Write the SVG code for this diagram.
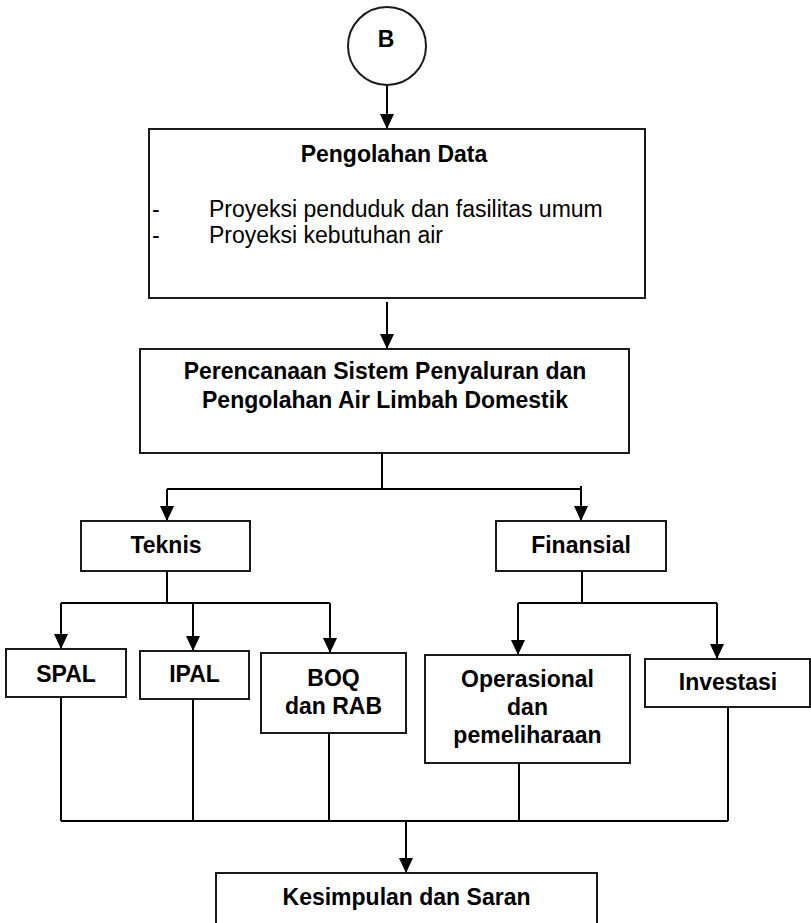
<svg xmlns="http://www.w3.org/2000/svg" width="811" height="923" viewBox="0 0 811 923">
<style>
.box{fill:#fff;stroke:#1a1a1a;stroke-width:2}
.c{fill:none;stroke:#000;stroke-width:2}
.a{marker-end:url(#ah)}
.t{font-family:"Liberation Sans",Arial,sans-serif;font-size:23px;fill:#000;text-anchor:middle}
.b{font-weight:bold}
.r{font-family:"Liberation Sans",Arial,sans-serif;font-size:23px;fill:#000}
</style>
<defs>
<marker id="ah" viewBox="0 0 15 14" markerWidth="15" markerHeight="14" refX="15" refY="7" orient="auto" markerUnits="userSpaceOnUse">
<path d="M0,0 L15,7 L0,14 z" fill="#000"/>
</marker>
</defs>
<rect width="811" height="923" fill="#fff"/>
<g id="connectors">
<path class="c a" d="M387,85 V129"/>
<path class="c a" d="M387,302 V349"/>
<path class="c" d="M382,453 V489 M167,489 H581"/>
<path class="c a" d="M167,489 V521"/>
<path class="c a" d="M581,486 V521"/>
<path class="c" d="M167,571 V603 M61,603 H330"/>
<path class="c a" d="M61,603 V649"/>
<path class="c a" d="M193,603 V651"/>
<path class="c a" d="M330,603 V653"/>
<path class="c" d="M582,571 V603 M518,603 H717"/>
<path class="c a" d="M518,603 V655"/>
<path class="c a" d="M717,603 V659"/>
<path class="c" d="M61,697 V821 M193,699 V821 M329,733 V821 M519,763 V821 M728,707 V821 M61,821 H728"/>
<path class="c a" d="M406,821 V873"/>
</g>
<g id="nodeB">
<circle cx="387" cy="46" r="39" class="box"/>
<text class="t b" x="386" y="47">B</text>
</g>
<g id="pengolahan">
<rect class="box" x="149" y="129" width="496" height="169"/>
<text class="t b" x="394" y="162">Pengolahan Data</text>
<text class="r" x="152" y="217">-</text>
<text class="r" x="209" y="217">Proyeksi penduduk dan fasilitas umum</text>
<text class="r" x="152" y="243">-</text>
<text class="r" x="209" y="243">Proyeksi kebutuhan air</text>
</g>
<g id="perencanaan">
<rect class="box" x="140" y="349" width="489" height="104"/>
<text class="t b" x="385" y="379">Perencanaan Sistem Penyaluran dan</text>
<text class="t b" x="385" y="408">Pengolahan Air Limbah Domestik</text>
</g>
<g id="teknis">
<rect class="box" x="81" y="521" width="169" height="50"/>
<text class="t b" x="166" y="553">Teknis</text>
</g>
<g id="finansial">
<rect class="box" x="496" y="521" width="170" height="50"/>
<text class="t b" x="581" y="553">Finansial</text>
</g>
<g id="spal">
<rect class="box" x="6" y="649" width="120" height="48"/>
<text class="t b" x="66" y="682">SPAL</text>
</g>
<g id="ipal">
<rect class="box" x="140" y="651" width="109" height="48"/>
<text class="t b" x="194.5" y="682">IPAL</text>
</g>
<g id="boq">
<rect class="box" x="261" y="653" width="145" height="80"/>
<text class="t b" x="333.5" y="686">BOQ</text>
<text class="t b" x="333.5" y="714">dan RAB</text>
</g>
<g id="operasional">
<rect class="box" x="425" y="655" width="205" height="108"/>
<text class="t b" x="527.5" y="687">Operasional</text>
<text class="t b" x="527.5" y="715">dan</text>
<text class="t b" x="527.5" y="743">pemeliharaan</text>
</g>
<g id="investasi">
<rect class="box" x="645" y="659" width="165" height="48"/>
<text class="t b" x="728" y="690">Investasi</text>
</g>
<g id="kesimpulan">
<rect class="box" x="216" y="873" width="381" height="70"/>
<text class="t b" x="406.5" y="905">Kesimpulan dan Saran</text>
</g>
</svg>
